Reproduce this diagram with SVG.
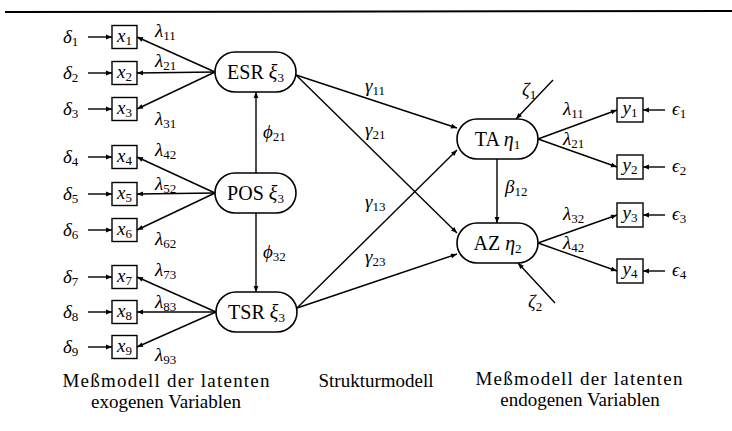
<svg xmlns="http://www.w3.org/2000/svg" width="732" height="431" viewBox="0 0 732 431">
<style>
.m{font-family:"Liberation Serif",serif;font-style:italic;font-size:19px;fill:#000}
.s{font-style:normal;font-size:13px}
.r{font-family:"Liberation Serif",serif;font-size:20px;fill:#000}
.cap{font-family:"Liberation Serif",serif;font-size:19px;fill:#000;text-anchor:middle}
.box{fill:#fff;stroke:#000;stroke-width:1.4}
.lat{fill:#fff;stroke:#000;stroke-width:1.6}
.c{stroke:#000;stroke-width:1.4;fill:none;marker-end:url(#ah)}
.mid{text-anchor:middle}
</style>
<defs>
<marker id="ah" viewBox="0 0 10 10" refX="10" refY="5" markerWidth="7" markerHeight="6" markerUnits="userSpaceOnUse" orient="auto"><path d="M0,1 L10,5 L0,9 z" fill="#000"/></marker>
</defs>
<rect width="732" height="431" fill="#fff"/>
<line x1="5" y1="12" x2="732" y2="11" stroke="#000" stroke-width="2"/>

<g id="connectors">
<line class="c" x1="88" y1="37" x2="112" y2="37"/>
<line class="c" x1="88" y1="73" x2="112" y2="73"/>
<line class="c" x1="88" y1="109" x2="112" y2="109"/>
<line class="c" x1="88" y1="157" x2="112" y2="157"/>
<line class="c" x1="88" y1="194" x2="112" y2="194"/>
<line class="c" x1="88" y1="230" x2="112" y2="230"/>
<line class="c" x1="88" y1="277" x2="112" y2="277"/>
<line class="c" x1="88" y1="312" x2="112" y2="312"/>
<line class="c" x1="88" y1="347" x2="112" y2="347"/>
<line class="c" x1="215" y1="72" x2="137" y2="37"/>
<line class="c" x1="215" y1="72" x2="137" y2="73"/>
<line class="c" x1="215" y1="72" x2="137" y2="109"/>
<line class="c" x1="215" y1="193" x2="137" y2="157"/>
<line class="c" x1="215" y1="193" x2="137" y2="194"/>
<line class="c" x1="215" y1="193" x2="137" y2="230"/>
<line class="c" x1="216" y1="312" x2="137" y2="277"/>
<line class="c" x1="216" y1="312" x2="137" y2="312"/>
<line class="c" x1="216" y1="312" x2="137" y2="347"/>
<line class="c" x1="256" y1="173" x2="256" y2="92"/>
<line class="c" x1="256" y1="213" x2="256" y2="292"/>
<line class="c" x1="296" y1="75" x2="457" y2="128"/>
<line class="c" x1="296" y1="75" x2="457" y2="233"/>
<line class="c" x1="297" y1="308" x2="457" y2="150"/>
<line class="c" x1="297" y1="308" x2="457" y2="254"/>
<line class="c" x1="497" y1="159" x2="497" y2="223"/>
<line class="c" x1="553" y1="80" x2="516" y2="119"/>
<line class="c" x1="555" y1="303" x2="518" y2="263"/>
<line class="c" x1="538" y1="139" x2="617" y2="110"/>
<line class="c" x1="538" y1="139" x2="617" y2="167"/>
<line class="c" x1="538" y1="243" x2="617" y2="215"/>
<line class="c" x1="538" y1="243" x2="617" y2="271"/>
<line class="c" x1="665" y1="110" x2="643" y2="110"/>
<line class="c" x1="665" y1="167" x2="643" y2="167"/>
<line class="c" x1="665" y1="215" x2="643" y2="215"/>
<line class="c" x1="665" y1="271" x2="643" y2="271"/>
</g>

<g id="connector-labels">
<text class="m" x="155" y="37">λ<tspan class="s" dy="3">11</tspan></text>
<text class="m" x="155" y="67">λ<tspan class="s" dy="3">21</tspan></text>
<text class="m" x="155" y="125">λ<tspan class="s" dy="3">31</tspan></text>
<text class="m" x="155" y="156">λ<tspan class="s" dy="3">42</tspan></text>
<text class="m" x="155" y="190">λ<tspan class="s" dy="3">52</tspan></text>
<text class="m" x="155" y="245">λ<tspan class="s" dy="3">62</tspan></text>
<text class="m" x="155" y="276">λ<tspan class="s" dy="3">73</tspan></text>
<text class="m" x="155" y="308">λ<tspan class="s" dy="3">83</tspan></text>
<text class="m" x="155" y="361">λ<tspan class="s" dy="3">93</tspan></text>
<text class="m" x="263" y="138">ϕ<tspan class="s" dy="3">21</tspan></text>
<text class="m" x="263" y="258">ϕ<tspan class="s" dy="3">32</tspan></text>
<text class="m" x="365" y="92">γ<tspan class="s" dy="3">11</tspan></text>
<text class="m" x="365" y="136">γ<tspan class="s" dy="3">21</tspan></text>
<text class="m" x="365" y="208">γ<tspan class="s" dy="3">13</tspan></text>
<text class="m" x="365" y="263">γ<tspan class="s" dy="3">23</tspan></text>
<text class="m" x="505" y="193">β<tspan class="s" dy="3">12</tspan></text>
<text class="m" x="563" y="115">λ<tspan class="s" dy="3">11</tspan></text>
<text class="m" x="563" y="145">λ<tspan class="s" dy="3">21</tspan></text>
<text class="m" x="563" y="220">λ<tspan class="s" dy="3">32</tspan></text>
<text class="m" x="563" y="249">λ<tspan class="s" dy="3">42</tspan></text>
</g>

<g id="delta1"><text class="m" x="63" y="43">δ<tspan class="s" dy="3">1</tspan></text></g>
<g id="delta2"><text class="m" x="63" y="79">δ<tspan class="s" dy="3">2</tspan></text></g>
<g id="delta3"><text class="m" x="63" y="115">δ<tspan class="s" dy="3">3</tspan></text></g>
<g id="delta4"><text class="m" x="63" y="163">δ<tspan class="s" dy="3">4</tspan></text></g>
<g id="delta5"><text class="m" x="63" y="200">δ<tspan class="s" dy="3">5</tspan></text></g>
<g id="delta6"><text class="m" x="63" y="236">δ<tspan class="s" dy="3">6</tspan></text></g>
<g id="delta7"><text class="m" x="63" y="283">δ<tspan class="s" dy="3">7</tspan></text></g>
<g id="delta8"><text class="m" x="63" y="318">δ<tspan class="s" dy="3">8</tspan></text></g>
<g id="delta9"><text class="m" x="63" y="353">δ<tspan class="s" dy="3">9</tspan></text></g>

<g id="x1"><rect class="box" x="112" y="25.5" width="25" height="23"/><text class="m mid" x="124.5" y="42">x<tspan class="s" dy="3">1</tspan></text></g>
<g id="x2"><rect class="box" x="112" y="61.5" width="25" height="23"/><text class="m mid" x="124.5" y="78">x<tspan class="s" dy="3">2</tspan></text></g>
<g id="x3"><rect class="box" x="112" y="97.5" width="25" height="23"/><text class="m mid" x="124.5" y="114">x<tspan class="s" dy="3">3</tspan></text></g>
<g id="x4"><rect class="box" x="112" y="145.5" width="25" height="23"/><text class="m mid" x="124.5" y="162">x<tspan class="s" dy="3">4</tspan></text></g>
<g id="x5"><rect class="box" x="112" y="182.5" width="25" height="23"/><text class="m mid" x="124.5" y="199">x<tspan class="s" dy="3">5</tspan></text></g>
<g id="x6"><rect class="box" x="112" y="218.5" width="25" height="23"/><text class="m mid" x="124.5" y="235">x<tspan class="s" dy="3">6</tspan></text></g>
<g id="x7"><rect class="box" x="112" y="265.5" width="25" height="23"/><text class="m mid" x="124.5" y="282">x<tspan class="s" dy="3">7</tspan></text></g>
<g id="x8"><rect class="box" x="112" y="300.5" width="25" height="23"/><text class="m mid" x="124.5" y="317">x<tspan class="s" dy="3">8</tspan></text></g>
<g id="x9"><rect class="box" x="112" y="335.5" width="25" height="23"/><text class="m mid" x="124.5" y="352">x<tspan class="s" dy="3">9</tspan></text></g>

<g id="ESR"><rect class="lat" x="215" y="52" width="81" height="40" rx="20"/><text class="r mid" x="255.5" y="79">ESR <tspan font-style="italic">ξ</tspan><tspan class="s" dy="3">3</tspan></text></g>
<g id="POS"><rect class="lat" x="215" y="173" width="81" height="40" rx="20"/><text class="r mid" x="255.5" y="200">POS <tspan font-style="italic">ξ</tspan><tspan class="s" dy="3">3</tspan></text></g>
<g id="TSR"><rect class="lat" x="216" y="292" width="81" height="40" rx="20"/><text class="r mid" x="256.5" y="319">TSR <tspan font-style="italic">ξ</tspan><tspan class="s" dy="3">3</tspan></text></g>

<g id="TA"><rect class="lat" x="457" y="119" width="81" height="40" rx="20"/><text class="r mid" x="497.5" y="146">TA <tspan font-style="italic">η</tspan><tspan class="s" dy="3">1</tspan></text></g>
<g id="AZ"><rect class="lat" x="457" y="223" width="81" height="40" rx="20"/><text class="r mid" x="497.5" y="250">AZ <tspan font-style="italic">η</tspan><tspan class="s" dy="3">2</tspan></text></g>

<g id="zeta1"><text class="m" x="522" y="96">ζ<tspan class="s" dy="3">1</tspan></text></g>
<g id="zeta2"><text class="m" x="528" y="308">ζ<tspan class="s" dy="3">2</tspan></text></g>

<g id="y1"><rect class="box" x="617" y="98" width="26" height="24"/><text class="m mid" x="630" y="114">y<tspan class="s" dy="3">1</tspan></text></g>
<g id="y2"><rect class="box" x="617" y="155" width="26" height="24"/><text class="m mid" x="630" y="171">y<tspan class="s" dy="3">2</tspan></text></g>
<g id="y3"><rect class="box" x="617" y="203" width="26" height="24"/><text class="m mid" x="630" y="219">y<tspan class="s" dy="3">3</tspan></text></g>
<g id="y4"><rect class="box" x="617" y="259" width="26" height="24"/><text class="m mid" x="630" y="275">y<tspan class="s" dy="3">4</tspan></text></g>

<g id="eps1"><text class="m" x="672" y="115">ϵ<tspan class="s" dy="3">1</tspan></text></g>
<g id="eps2"><text class="m" x="672" y="172">ϵ<tspan class="s" dy="3">2</tspan></text></g>
<g id="eps3"><text class="m" x="672" y="220">ϵ<tspan class="s" dy="3">3</tspan></text></g>
<g id="eps4"><text class="m" x="672" y="276">ϵ<tspan class="s" dy="3">4</tspan></text></g>

<g id="captions">
<text class="cap" x="166" y="387" textLength="207">Meßmodell der latenten</text>
<text class="cap" x="166" y="408">exogenen Variablen</text>
<text class="cap" x="376" y="387">Strukturmodell</text>
<text class="cap" x="579" y="385" textLength="207">Meßmodell der latenten</text>
<text class="cap" x="580" y="406">endogenen Variablen</text>
</g>
</svg>
